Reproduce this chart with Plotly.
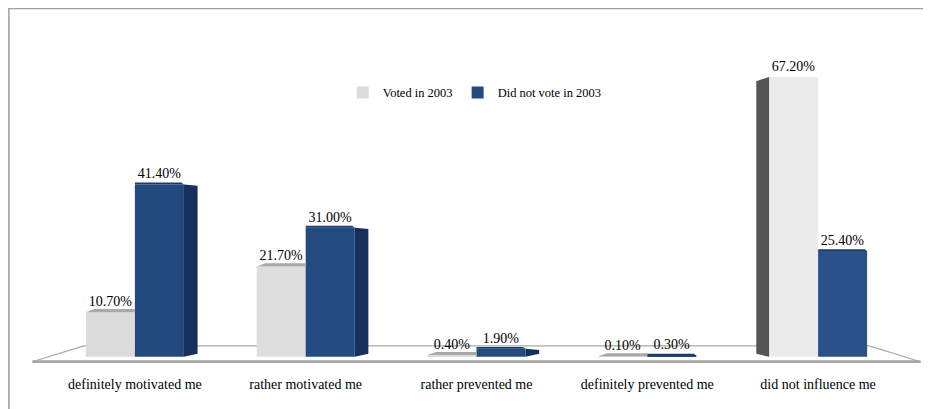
import plotly.graph_objects as go

categories = ["definitely motivated me", "rather motivated me", "rather prevented me",
              "definitely prevented me", "did not influence me"]
voted = [10.7, 21.7, 0.4, 0.1, 67.2]
not_voted = [41.4, 31.0, 1.9, 0.3, 25.4]
series_names = ["Voted in 2003", "Did not vote in 2003"]

LIGHT_COLORS = ["#DCDCDC", "#DEDEDE", "#DCDCDC", "#DCDCDC", "#EBEBEB"]
DARK_COLORS = ["#234A7F", "#244B80", "#244B80", "#244B80", "#2A5288"]
LIGHT = "#DCDCDC"
DARK = "#244B80"
FONT = "Liberation Serif"

BW = 0.287          # bar width in category units
BARGAP = 1 - 2 * BW
XR = [-0.62, len(categories) - 1 + 0.62]
YR = [-1.5, 78]

fig = go.Figure()
fig.add_trace(go.Bar(x=categories, y=voted, name=series_names[0],
                     marker=dict(color=LIGHT_COLORS, line=dict(width=0)),
                     texttemplate="%{y:.2f}%", textposition="outside", cliponaxis=False,
                     textfont=dict(family=FONT, size=14, color="#000")))
fig.add_trace(go.Bar(x=categories, y=not_voted, name=series_names[1],
                     marker=dict(color=DARK_COLORS, line=dict(width=0)),
                     texttemplate="%{y:.2f}%", textposition="outside", cliponaxis=False,
                     textfont=dict(family=FONT, size=14, color="#000")))

shapes = []
# floor
fl, fr = XR[0] + 0.02, XR[1] - 0.02
shapes.append(dict(type="path", xref="x", yref="y",
                   path=f"M {fl} -1.2 L {fl+0.3} 2.6 L {fr-0.3} 2.6 L {fr} -1.2 Z",
                   fillcolor="rgba(255,255,255,0)", line=dict(color="#A8A8A8", width=1.2), layer="below"))
shapes.append(dict(type="line", xref="x", yref="y", x0=fl, x1=fr, y0=-1.2, y1=-1.2,
                   line=dict(color="#A6A6A6", width=3), layer="below"))

dx, dy = 0.05, 0.75
for i, (v, n) in enumerate(zip(voted, not_voted)):
    lx0, lx1 = i - BW, i
    dx0, dx1 = i, i + BW
    # top faces
    if i < 4:
        shapes.append(dict(type="path", xref="x", yref="y",
                           path=f"M {lx0} {v} L {lx0+dx} {v+dy} L {lx1} {v+dy} L {lx1} {v} Z",
                           fillcolor="#A9A9A9", line=dict(width=0)))
    shapes.append(dict(type="path", xref="x", yref="y",
                       path=f"M {dx0} {n} L {dx0} {n+dy*0.6} L {dx1-dx*0.3} {n+dy*0.6} L {dx1} {n} Z",
                       fillcolor="#1C3B68", line=dict(width=0)))
    # side faces
    if i < 3:
        shapes.append(dict(type="path", xref="x", yref="y",
                           path=f"M {dx1} 0 L {dx1} {n} L {dx1+0.08} {n-0.3} L {dx1+0.08} 0.7 Z",
                           fillcolor="#15305A", line=dict(width=0)))
    if i == 4:
        shapes.append(dict(type="path", xref="x", yref="y",
                           path=f"M {lx0} 0 L {lx0} {v} L {lx0-0.075} {v-1} L {lx0-0.075} 0.7 Z",
                           fillcolor="#555555", line=dict(width=0)))

# outer border (only top and left visible)
shapes.append(dict(type="rect", xref="paper", yref="paper", x0=-0.0225, x1=1.2, y0=-0.5, y1=1.071,
                   line=dict(color="#A0A0A0", width=1.5), fillcolor="rgba(0,0,0,0)"))

fig.update_layout(
    width=923, height=401,
    margin=dict(l=21, r=7, t=24, b=46),
    paper_bgcolor="white", plot_bgcolor="white",
    barmode="group", bargap=BARGAP, bargroupgap=0,
    font=dict(family=FONT, size=14, color="#000"),
    showlegend=True,
    legend=dict(orientation="h", x=0.498, y=0.816, xanchor="center", yanchor="middle",
                font=dict(family=FONT, size=12.5, color="#000"), itemwidth=30,
                bgcolor="rgba(0,0,0,0)"),
    xaxis=dict(range=XR, showgrid=False, zeroline=False, showline=False, ticks="",
               ticklabelstandoff=11, tickfont=dict(family=FONT, size=14, color="#000")),
    yaxis=dict(range=YR, visible=False, showgrid=False, zeroline=False),
    shapes=shapes,
)

fig.write_html("out.html")
